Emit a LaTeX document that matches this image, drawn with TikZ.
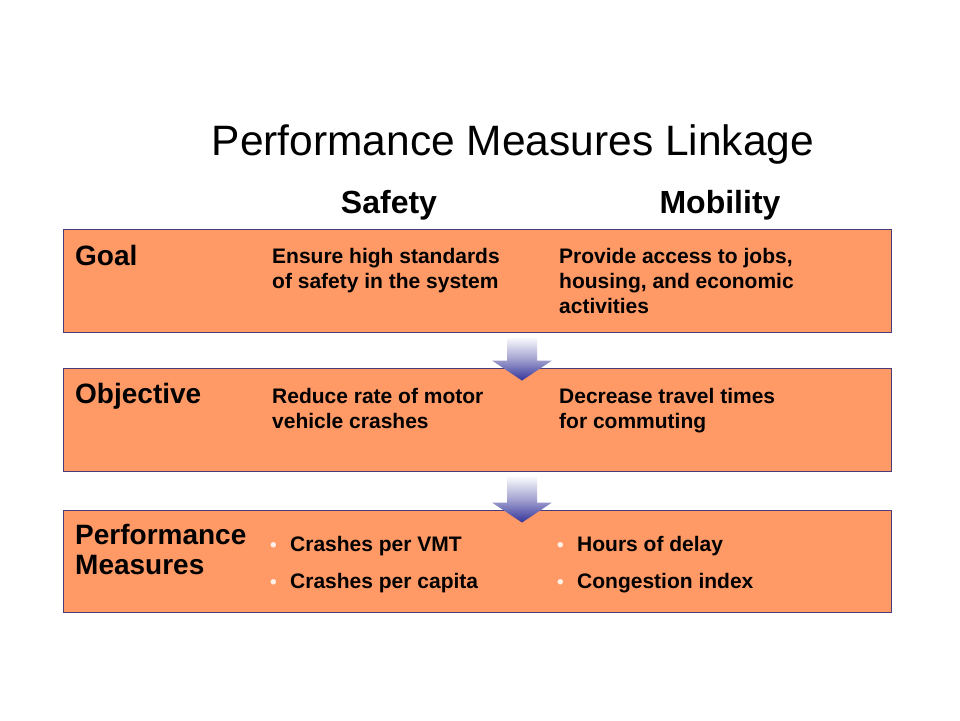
\documentclass[tikz,border=0pt]{standalone}
\usepackage{fontspec}
\setmainfont{Liberation Sans}
\usetikzlibrary{positioning,calc}
\definecolor{boxfill}{HTML}{FF9966}
\definecolor{boxline}{HTML}{4B3B78}
\definecolor{arrowblue}{HTML}{34349A}
\definecolor{bulletcol}{HTML}{FFF1E8}
\tikzset{
  rowbox/.style={draw=boxline, fill=boxfill, line width=1pt, minimum width=828pt, inner sep=0pt},
  rowlabel/.style={font=\fontsize{28}{30}\selectfont\bfseries, anchor=base west, align=left, inner sep=0pt},
  celltext/.style={font=\fontsize{21}{25}\selectfont\bfseries, anchor=base west, align=left, inner sep=0pt},
  colhead/.style={font=\fontsize{32}{34}\selectfont\bfseries, anchor=base, inner sep=0pt},
}
\newcommand{\bitem}[1]{\makebox[20pt][l]{\textcolor{bulletcol}{\fontsize{19}{19}\selectfont\textbullet}}#1}
\begin{document}
\begin{tikzpicture}[x=1pt,y=-1pt]
    \useasboundingbox[fill=white] (0,0) rectangle (960,720);
    \node[font=\fontsize{42.5}{44}\selectfont, anchor=base, inner sep=0pt] (title) at (513,155) {Performance Measures Linkage};
    \node[colhead] (safety) at (389,213) {Safety};
    \node[colhead] (mobility) at (720,213) {Mobility};

\foreach \n/\y/\h in {goal/280.5/103, obj/419.5/103, pm/561/102}{
    \node[rowbox, minimum height=\h pt] (\n) at (477,\y) {};
}

\foreach \a/\b in {goal/obj, obj/pm}{
    \coordinate (\a top) at ($(\a.south)+(45,4)$);
    \coordinate (\b tip) at ($(\b.north)+(45,13)$);
    \shade[top color=white, bottom color=arrowblue, middle color=arrowblue!45!white]
        ($(\a top)+(-15,0)$) -- ($(\a top)+(15,0)$) -- ($(\b tip)+(15,-20)$) -- ($(\b tip)+(30,-20)$)
        -- (\b tip) -- ($(\b tip)+(-30,-20)$) -- ($(\b tip)+(-15,-20)$) -- cycle;
}

    % multi-line nodes: base = baseline of the last line
    \node[rowlabel] (goallbl) at (75,265) {Goal};
    \node[rowlabel] (objlbl) at (75,403) {Objective};
    \node[rowlabel] (pmlbl) at (75,574) {Performance\\Measures};

    \node[celltext] (goalsafe) at (272,288) {Ensure high standards\\of safety in the system};
    \node[celltext] (goalmob) at (559,313) {Provide access to jobs,\\housing, and economic\\activities};
    \node[celltext] (objsafe) at (272,428) {Reduce rate of motor\\vehicle crashes};
    \node[celltext] (objmob) at (559,428) {Decrease travel times\\for commuting};

\foreach \x\s\m in {551/{Crashes per VMT}/{Hours of delay}, 588/{Crashes per capita}/{Congestion index}}{
    \node[celltext] at (270,\x) {\bitem{\s}};
    \node[celltext] at (557,\x) {\bitem{\m}};
}
\end{tikzpicture}
\end{document}
